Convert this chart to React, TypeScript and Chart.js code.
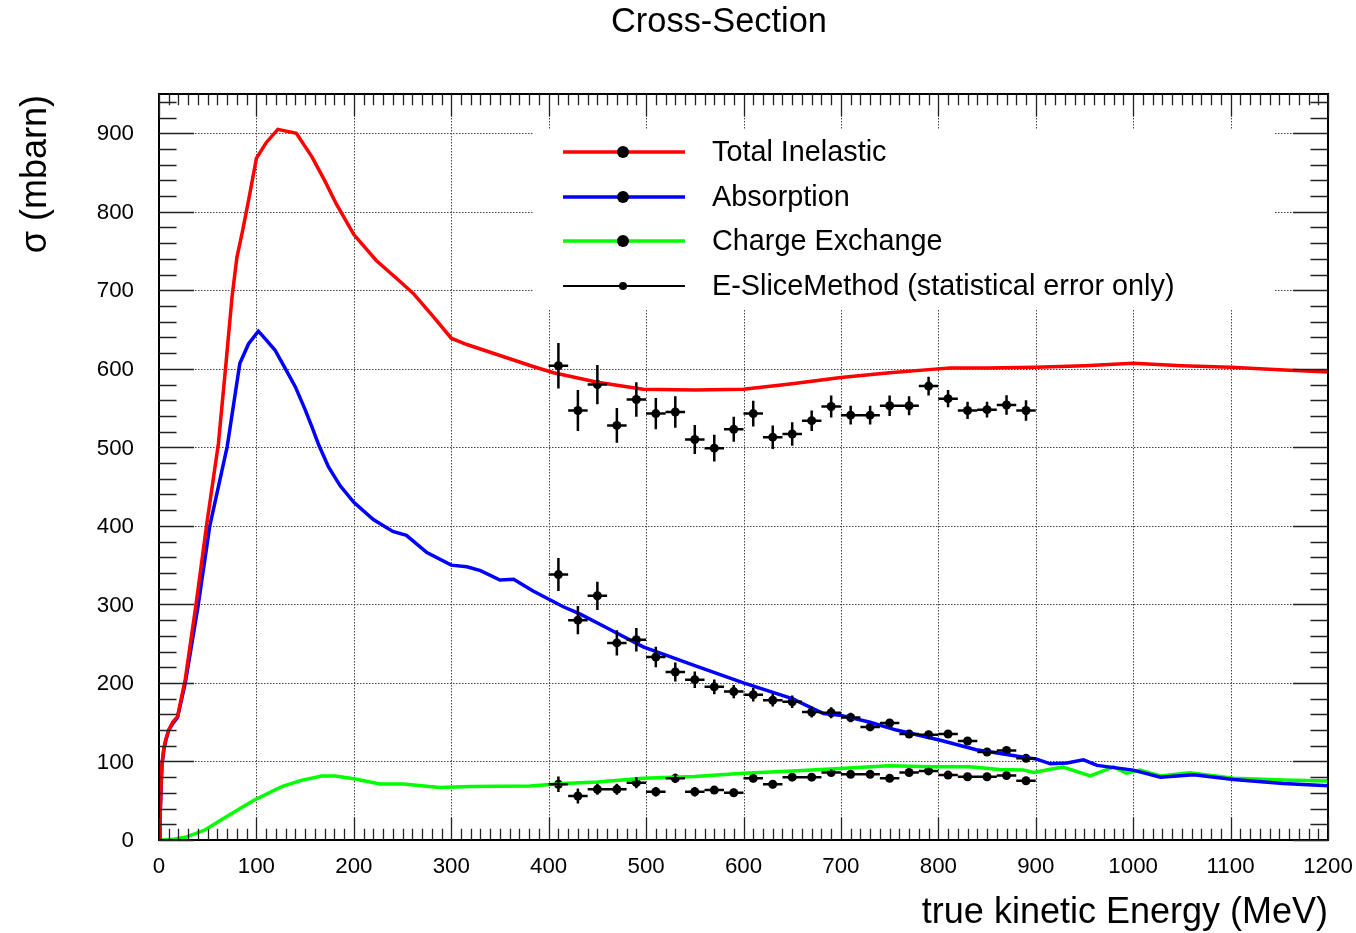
import { useEffect, useRef } from "react";
import { Chart, registerables } from "chart.js";

Chart.register(...registerables);

// Simulated cross-sections (mbarn) versus true kinetic energy (MeV)
const totalInelE = [0, 1, 2, 3, 5, 7, 10, 14, 19, 27, 38, 49, 61, 69, 75, 80, 86, 92, 100, 110, 122, 141, 157, 170, 182, 200, 223, 244, 261, 282, 300, 316, 350, 384, 405, 450, 497, 550, 600, 650, 700, 750, 790, 812, 850, 900, 950, 1000, 1050, 1100, 1150, 1200];
const totalInelMC = [0, 25, 65, 97, 117, 128, 140, 150, 157, 205, 300, 402, 505, 610, 692, 742, 777, 815, 868, 888, 905, 900, 870, 840, 810, 771, 738, 715, 696, 666, 639, 631, 617, 603, 595, 583, 574, 573, 574, 581, 589, 595, 599, 601, 601, 602, 604, 607, 604, 602, 599, 596];

const absE = [0, 1, 2, 3, 5, 7, 10, 14, 19, 27, 40, 52, 61, 70, 83, 92, 102, 110, 119, 129, 140, 150, 157, 164, 174, 186, 200, 220, 240, 254, 275, 300, 316, 330, 350, 364, 384, 415, 432, 460, 497, 550, 600, 650, 682, 699, 730, 757, 802, 839, 870, 901, 915, 932, 949, 963, 1000, 1028, 1062, 1103, 1154, 1200];
const absMC = [0, 25, 60, 95, 115, 127, 140, 148, 156, 200, 297, 399, 450, 501, 607, 632, 648, 637, 624, 602, 577, 548, 526, 503, 475, 451, 430, 408, 393, 388, 366, 350, 348, 343, 331, 332, 317, 297, 288, 270, 246, 222, 200, 180, 161, 159, 150, 140, 127, 115, 109, 103, 97, 98, 102, 95, 89, 80, 83, 77, 72, 69];

const exchE = [0, 3, 15, 27, 47, 75, 98, 126, 146, 167, 181, 200, 227, 251, 288, 320, 381, 415, 450, 497, 550, 600, 650, 699, 750, 791, 832, 863, 887, 898, 915, 928, 956, 980, 993, 1007, 1028, 1058, 1103, 1154, 1200];
const exchMC = [0, 0, 1, 3.4, 12.7, 34, 51, 68, 76, 81.5, 81.5, 78, 71.3, 71.3, 67, 68, 68.7, 72, 74, 78.5, 81, 85, 88, 91, 94.5, 93.3, 93.3, 89.7, 89, 86, 90, 93, 81.5, 93, 85, 89, 81.5, 85.7, 78.5, 76.4, 75];

// E-Slice measurement: bin centres, half bin width, values and statistical errors
const sliceE = [410, 430, 450, 470, 490, 510, 530, 550, 570, 590, 610, 630, 650, 670, 690, 710, 730, 750, 770, 790, 810, 830, 850, 870, 890];
const sliceHalfWidth = 10;
const totalInelData = [604, 547, 580, 528, 561, 543, 545, 510, 499, 523, 543, 513, 517, 534, 552, 541, 541, 553, 553, 578, 562, 547, 548, 554, 547];
const totalInelErr = [29, 26, 25, 22, 22, 20, 20, 18.5, 17, 16, 16.5, 15, 15, 13, 14, 12, 12, 13, 12, 12, 11, 11, 10, 12.5, 13];
const absData = [338, 280, 311, 251, 255, 233, 214, 204, 195, 189, 185, 178, 176, 163, 162, 156, 144, 149, 135, 134, 135, 126, 112, 114, 104];
const absErr = [21, 18, 18, 16, 15, 13, 12, 10.5, 9.5, 8.5, 8.5, 8, 8, 7, 7, 6, 5, 5, 5, 5, 5, 4, 4, 4, 4];
const exchData = [71, 56, 64.5, 64.5, 73, 61.5, 78.5, 61.5, 63.6, 60.2, 78.5, 71, 80, 80, 86, 83.6, 83.6, 78.5, 86, 88, 82.7, 80.6, 80.6, 82, 75.5];
const exchErr = [10, 9.5, 7, 7, 7, 6, 6, 6, 5, 5, 5, 5, 5, 4, 4, 4, 4, 4, 4, 4, 4, 4, 4, 4, 4];

// Axis ticks
const xTickValues = [0, 100, 200, 300, 400, 500, 600, 700, 800, 900, 1000, 1100, 1200];
const yTickValues = [0, 100, 200, 300, 400, 500, 600, 700, 800, 900];

const legendLabels = ["Total Inelastic", "Absorption", "Charge Exchange", "E-SliceMethod (statistical error only)"];
const legendColors = ["#ff0000", "#0000ff", "#00ff00", "#000000"];

const FONT = "'Liberation Sans', Arial, Helvetica, sans-serif";

const toXY = (xs: number[], ys: number[]) => xs.map((x, i) => ({ x, y: ys[i] }));

const rootStyle = {
  id: "rootStyle",
  beforeDatasetsDraw(chart: any) {
    const { ctx, chartArea: a, scales } = chart;
    const xs = scales.x;
    const ys = scales.y;
    ctx.save();
    // dotted grid
    ctx.strokeStyle = "#444";
    ctx.lineWidth = 1;
    ctx.setLineDash([1.5, 1.5]);
    ctx.beginPath();
    xTickValues.forEach((v) => {
      if (v <= xs.min || v >= xs.max) return;
      const px = Math.round(xs.getPixelForValue(v)) + 0.5;
      ctx.moveTo(px, a.top);
      ctx.lineTo(px, a.bottom);
    });
    yTickValues.forEach((v) => {
      if (v <= ys.min || v >= ys.max) return;
      const py = Math.round(ys.getPixelForValue(v)) + 0.5;
      ctx.moveTo(a.left, py);
      ctx.lineTo(a.right, py);
    });
    ctx.stroke();
    ctx.setLineDash([]);
    // legend background
    ctx.fillStyle = "#fff";
    ctx.fillRect(533, 130, 742, 180);
    ctx.restore();
  },
  afterDatasetsDraw(chart: any) {
    const { ctx, chartArea: a, scales } = chart;
    const xs = scales.x;
    const ys = scales.y;
    ctx.save();
    // error bars of the measurement
    ctx.strokeStyle = "#000";
    ctx.lineWidth = 2.5;
    const series = [
      [totalInelData, totalInelErr],
      [absData, absErr],
      [exchData, exchErr],
    ];
    ctx.beginPath();
    series.forEach(([vals, errs]) => {
      sliceE.forEach((e, i) => {
        const cx = xs.getPixelForValue(e);
        const cy = ys.getPixelForValue(vals[i]);
        ctx.moveTo(xs.getPixelForValue(e - sliceHalfWidth), cy);
        ctx.lineTo(xs.getPixelForValue(e + sliceHalfWidth), cy);
        ctx.moveTo(cx, ys.getPixelForValue(vals[i] - errs[i]));
        ctx.lineTo(cx, ys.getPixelForValue(vals[i] + errs[i]));
      });
    });
    ctx.stroke();

    // frame
    ctx.lineWidth = 2;
    ctx.strokeRect(a.left, a.top, a.right - a.left, a.bottom - a.top);

    // inward ticks on all four sides
    const w = a.right - a.left;
    const h = a.bottom - a.top;
    const yMajor = 0.03 * w;
    const xMajor = 0.03 * h;
    ctx.lineWidth = 1.3;
    ctx.strokeStyle = "#222";
    ctx.beginPath();
    for (let v = 0; v <= ys.max; v += 20) {
      const py = Math.round(ys.getPixelForValue(v)) + 0.5;
      const len = v % 100 === 0 ? yMajor : yMajor / 2;
      ctx.moveTo(a.left, py);
      ctx.lineTo(a.left + len, py);
      ctx.moveTo(a.right, py);
      ctx.lineTo(a.right - len, py);
    }
    for (let v = 0; v <= xs.max; v += 10) {
      const px = Math.round(xs.getPixelForValue(v)) + 0.5;
      const len = v % 100 === 0 ? xMajor : xMajor / 2;
      ctx.moveTo(px, a.bottom);
      ctx.lineTo(px, a.bottom - len);
      ctx.moveTo(px, a.top);
      ctx.lineTo(px, a.top + len);
    }
    ctx.stroke();

    // legend
    const rows = [152, 197, 241, 286];
    rows.forEach((ry, i) => {
      const isData = i === 3;
      ctx.strokeStyle = legendColors[i];
      ctx.lineWidth = isData ? 2 : 3.5;
      ctx.beginPath();
      ctx.moveTo(563, ry);
      ctx.lineTo(685, ry);
      ctx.stroke();
      ctx.fillStyle = "#000";
      ctx.beginPath();
      ctx.arc(623, ry, isData ? 4 : 6, 0, Math.PI * 2);
      ctx.fill();
      ctx.font = `28.8px ${FONT}`;
      ctx.textAlign = "left";
      ctx.textBaseline = "middle";
      ctx.fillText(legendLabels[i], 712, ry + 1);
    });
    ctx.restore();
  },
  afterDraw(chart: any) {
    const { ctx, chartArea: a, scales } = chart;
    const xs = scales.x;
    const ys = scales.y;
    ctx.save();
    ctx.fillStyle = "#000";
    ctx.textBaseline = "middle";

    // tick labels
    ctx.font = `22.3px ${FONT}`;
    ctx.textAlign = "center";
    xTickValues.forEach((v) => {
      ctx.fillText(String(v), xs.getPixelForValue(v), 867);
    });
    ctx.textAlign = "right";
    yTickValues.forEach((v) => {
      ctx.fillText(String(v), a.left - 25, ys.getPixelForValue(v) + 1);
    });

    // titles
    ctx.font = `34.4px ${FONT}`;
    ctx.textAlign = "center";
    ctx.fillText("Cross-Section", 719, 23);
    ctx.font = `36px ${FONT}`;
    ctx.textAlign = "right";
    ctx.fillText("true kinetic Energy (MeV)", a.right, 913);
    ctx.translate(36, a.top + 1);
    ctx.rotate(-Math.PI / 2);
    ctx.textAlign = "right";
    ctx.fillText("σ (mbarn)", 0, 0);
    ctx.restore();
  },
};

export default function App() {
  const canvasRef = useRef<HTMLCanvasElement | null>(null);

  useEffect(() => {
    if (!canvasRef.current) return;
    const lineDs = (label: string, xs: number[], ys: number[], color: string) => ({
      type: "line" as const,
      label,
      data: toXY(xs, ys),
      borderColor: color,
      backgroundColor: color,
      borderWidth: 3.5,
      pointRadius: 0,
      tension: 0,
      fill: false,
    });
    const pointDs = (label: string, ys: number[]) => ({
      type: "scatter" as const,
      label,
      data: toXY(sliceE, ys),
      backgroundColor: "#000",
      borderColor: "#000",
      pointRadius: 4.5,
      borderWidth: 0,
      showLine: false,
    });
    const chart = new Chart(canvasRef.current, {
      type: "line",
      data: {
        datasets: [
          lineDs("Total Inelastic", totalInelE, totalInelMC, legendColors[0]),
          lineDs("Absorption", absE, absMC, legendColors[1]),
          lineDs("Charge Exchange", exchE, exchMC, legendColors[2]),
          pointDs("E-Slice Total Inelastic", totalInelData),
          pointDs("E-Slice Absorption", absData),
          pointDs("E-Slice Charge Exchange", exchData),
        ] as any,
      },
      options: {
        animation: false,
        responsive: true,
        maintainAspectRatio: false,
        layout: { padding: { top: 94, right: 28, left: 0, bottom: 0 } },
        plugins: {
          legend: { display: false },
          tooltip: { enabled: false },
          title: { display: false },
        },
        scales: {
          x: {
            type: "linear",
            min: 0,
            max: 1200,
            afterFit: (s: any) => {
              s.height = 93;
            },
            ticks: { display: false },
            grid: { display: false, drawTicks: false },
            border: { display: false },
          },
          y: {
            type: "linear",
            min: 0,
            max: 950,
            afterFit: (s: any) => {
              s.width = 159;
            },
            ticks: { display: false },
            grid: { display: false, drawTicks: false },
            border: { display: false },
          },
        },
      },
      plugins: [rootStyle],
    });
    return () => chart.destroy();
  }, []);

  return (
    <div style={{ position: "absolute", left: 0, top: 0, width: 1356, height: 933, background: "#fff" }}>
      <canvas ref={canvasRef} />
    </div>
  );
}
